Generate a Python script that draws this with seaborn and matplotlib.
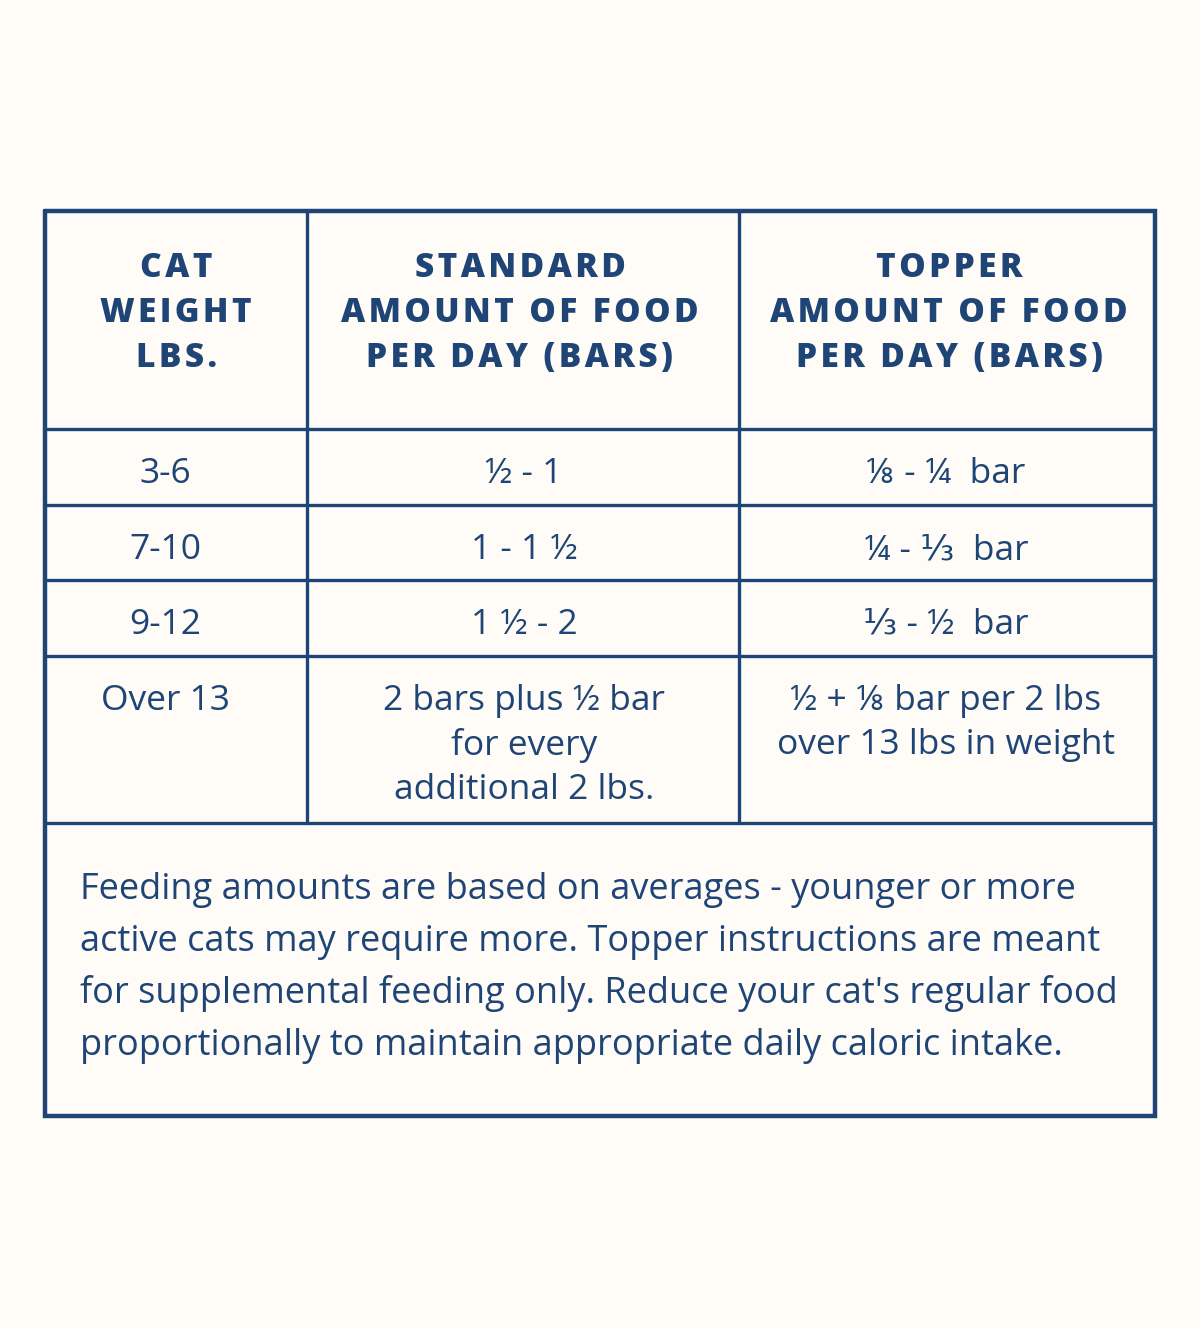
import matplotlib.pyplot as plt
import seaborn as sns

# table content
headers = ['CAT\nWEIGHT\nLBS.',
           'STANDARD\nAMOUNT OF FOOD\nPER DAY (BARS)',
           'TOPPER\nAMOUNT OF FOOD\nPER DAY (BARS)']
weights = ['3-6', '7-10', '9-12', 'Over 13']
standard = ['½ - 1', '1 - 1 ½', '1 ½ - 2',
            '2 bars plus ½ bar\nfor every\nadditional 2 lbs.']
topper = ['⅛ - ¼  bar', '¼ - ⅓  bar', '⅓ - ½  bar',
          '½ + ⅛ bar per 2 lbs\nover 13 lbs in weight']
note = ("Feeding amounts are based on averages - younger or more\n"
        "active cats may require more. Topper instructions are meant\n"
        "for supplemental feeding only. Reduce your cat's regular food\n"
        "proportionally to maintain appropriate daily caloric intake.")

navy = '#1e4576'
bg = '#fffcf8'

sns.set_theme(style='white')
plt.rcParams['font.family'] = ['Open Sans', 'DejaVu Sans']

fig = plt.figure(figsize=(12, 13.28), dpi=100, facecolor=bg)
ax = fig.add_axes([0, 0, 1, 1])
ax.set_facecolor(bg)
ax.set_xlim(0, 1200)
ax.set_ylim(1328, 0)
ax.axis('off')

# grid geometry (pixels)
x0, x1, x2, x3 = 45, 307, 739, 1155
y_top, y_head, y_bot = 211, 429, 1116
row_lines = [505, 580, 656, 823]

ax.plot([x0, x3, x3, x0, x0], [y_top, y_top, y_bot, y_bot, y_top],
        color=navy, lw=3.2, solid_joinstyle='miter')
ax.plot([x0, x3], [y_head, y_head], color=navy, lw=2.4)
for y in row_lines:
    ax.plot([x0, x3], [y, y], color=navy, lw=2.4)
for x in (x1, x2):
    ax.plot([x, x], [y_top, row_lines[-1]], color=navy, lw=2.4)


def put_lines(x, y, step, txt, ha='center', **kw):
    for k, line in enumerate(txt.split('\n')):
        ax.text(x, y + k * step, line, ha=ha, va='center_baseline',
                color=navy, **kw)


col_head = [176, 520, 949]
col_body = [165, 524, 946]

for cx, h in zip(col_head, headers):
    spaced = '\n'.join('\u200a'.join(l) for l in h.split('\n'))
    put_lines(cx, 264, 45, spaced, fontsize=24, fontweight=800)

row_mid = [470, 546, 621]
for i in range(3):
    for cx, txt in zip(col_body, (weights[i], standard[i], topper[i])):
        put_lines(cx, row_mid[i], 0, txt, fontsize=25.5)

# last row, top aligned
for cx, txt in zip(col_body, (weights[3], standard[3], topper[3])):
    put_lines(cx, 697, 44.5, txt, fontsize=25.5)

put_lines(80, 885, 52, note, ha='left', fontsize=26)

fig.savefig('out.png', dpi=100, facecolor=bg)
